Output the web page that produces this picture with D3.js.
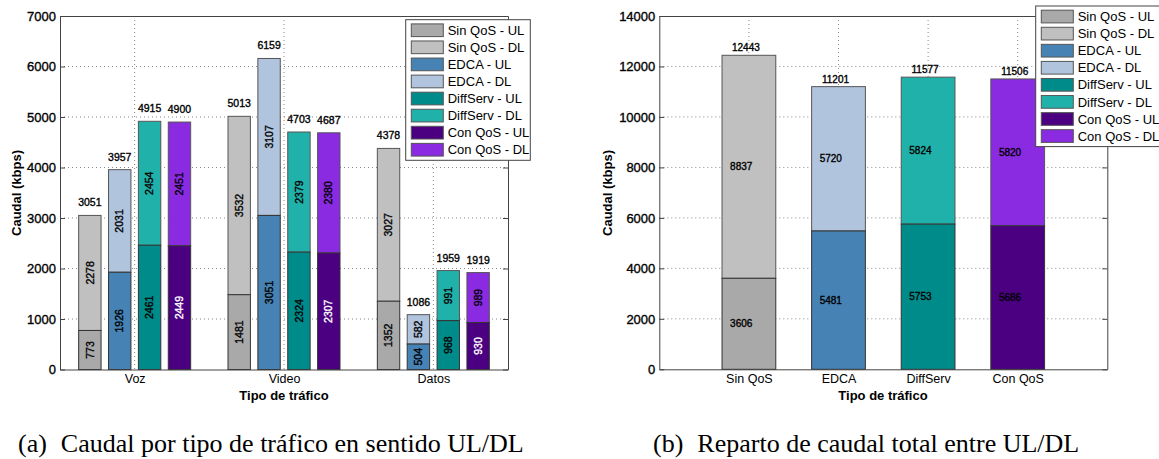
<!DOCTYPE html>
<html>
<head>
<meta charset="utf-8">
<script src="https://cdn.jsdelivr.net/npm/d3@7"></script>
<style>
  html, body { margin: 0; padding: 0; background: #fff; }
  svg { display: block; }
  text { font-family: "Liberation Sans", Arial, Helvetica, sans-serif; }
  .caption { font-family: "Liberation Serif", "Times New Roman", serif; }
  .num { stroke-width: 0.35px; }
</style>
</head>
<body>
<script>
// ---- data -------------------------------------------------------------
const trafficTypes = ["Voz", "Video", "Datos"];
const schemes = ["Sin QoS", "EDCA", "DiffServ", "Con QoS"];

// per-traffic-type throughput (kbps), uplink / downlink / total
const sinQosUL = [773, 1481, 1352];
const sinQosDL = [2278, 3532, 3027];
const sinQosTotal = [3051, 5013, 4378];
const edcaUL = [1926, 3051, 504];
const edcaDL = [2031, 3107, 582];
const edcaTotal = [3957, 6159, 1086];
const diffServUL = [2461, 2324, 968];
const diffServDL = [2454, 2379, 991];
const diffServTotal = [4915, 4703, 1959];
const conQosUL = [2449, 2307, 930];
const conQosDL = [2451, 2380, 989];
const conQosTotal = [4900, 4687, 1919];

// aggregate throughput per scheme (kbps)
const sumUL = [3606, 5481, 5753, 5686];
const sumDL = [8837, 5720, 5824, 5820];
const sumTotal = [12443, 11201, 11577, 11506];

const yTicksA = [0, 1000, 2000, 3000, 4000, 5000, 6000, 7000];
const yTicksB = [0, 2000, 4000, 6000, 8000, 10000, 12000, 14000];

const ulColors = ["#a9a9a9", "#4682b4", "#008b8b", "#4b0082"];
const dlColors = ["#c0c0c0", "#b0c4de", "#20b2aa", "#8a2be2"];
const ulTextColors = ["#000", "#000", "#000", "#fff"];

const legendLabels = schemes.flatMap(s => [s + " - UL", s + " - DL"]);
const legendColors = ulColors.flatMap((c, i) => [c, dlColors[i]]);

const seriesA = [
  { ul: sinQosUL, dl: sinQosDL, total: sinQosTotal },
  { ul: edcaUL, dl: edcaDL, total: edcaTotal },
  { ul: diffServUL, dl: diffServDL, total: diffServTotal },
  { ul: conQosUL, dl: conQosDL, total: conQosTotal }
];

// ---- canvas -----------------------------------------------------------
const W = 1159, H = 459;
const svg = d3.select("body").append("svg").attr("width", W).attr("height", H);

const EDGE = "#555";
const AXIS = "#444";
const GRID = "#888";

// numeric label, slightly heavier than plain text
function num(sel, color) {
  return sel.attr("class", "num").attr("fill", color).attr("stroke", color);
}

function frame(g, x, y, xTickVals, yTicks) {
  const [x0, x1] = x.range();
  const [y0, y1] = y.range();
  g.append("g").selectAll("line").data(yTicks.slice(1, -1)).join("line")
    .attr("x1", x0).attr("x2", x1).attr("y1", d => y(d)).attr("y2", d => y(d))
    .attr("stroke", GRID).attr("stroke-width", 1).attr("stroke-dasharray", "1,3");
  g.append("g").selectAll("line").data(xTickVals).join("line")
    .attr("x1", d => x(d)).attr("x2", d => x(d)).attr("y1", y1).attr("y2", y0)
    .attr("stroke", GRID).attr("stroke-width", 1).attr("stroke-dasharray", "1,3");
}

function axes(g, x, y, xTickVals, xTickLabels, yTicks) {
  const [x0, x1] = x.range();
  const [y0, y1] = y.range();
  const left = g.append("g").attr("transform", `translate(${x0},0)`)
    .call(d3.axisLeft(y).tickValues(yTicks).tickSizeInner(-5).tickSizeOuter(0).tickPadding(4).tickFormat(d3.format("d")));
  const right = g.append("g").attr("transform", `translate(${x1},0)`)
    .call(d3.axisRight(y).tickValues(yTicks).tickSizeInner(-5).tickSizeOuter(0).tickFormat(""));
  const bottom = g.append("g").attr("transform", `translate(0,${y0})`)
    .call(d3.axisBottom(x).tickValues(xTickVals).tickSize(0).tickPadding(5).tickFormat((d, i) => xTickLabels[i]));
  const top = g.append("g").attr("transform", `translate(0,${y1})`)
    .call(d3.axisTop(x).tickValues(xTickVals).tickSize(0).tickFormat(""));
  [left, right, bottom, top].forEach(a => {
    a.attr("font-family", null);
    a.select(".domain").attr("stroke", AXIS);
    a.selectAll(".tick line").attr("stroke", AXIS);
  });
  num(left.selectAll("text"), "#000").attr("font-size", 13);
  bottom.selectAll("text").attr("font-size", 12.5).attr("fill", "#000");
}

function legend(g, x, y) {
  const lg = g.append("g").attr("transform", `translate(${x},${y})`);
  lg.append("rect").attr("width", 124.6).attr("height", 140.6)
    .attr("fill", "#fff").attr("stroke", AXIS).attr("stroke-width", 1);
  const rows = lg.selectAll("g").data(legendLabels).join("g")
    .attr("transform", (d, i) => `translate(0,${10.5 + i * 17.07})`);
  rows.append("rect").attr("x", 5.6).attr("y", -6.3).attr("width", 32).attr("height", 12.7)
    .attr("fill", (d, i) => legendColors[i]).attr("stroke", EDGE).attr("stroke-width", 1);
  rows.append("text").attr("x", 42).attr("y", 0).attr("dy", "0.36em")
    .attr("font-size", 13).attr("fill", "#000").text(d => d);
}

function yTitle(g, cx, cy) {
  g.append("text").attr("transform", `translate(${cx},${cy}) rotate(-90)`)
    .attr("text-anchor", "middle").attr("dy", "0.35em")
    .attr("font-size", 13).attr("font-weight", "bold").text("Caudal (kbps)");
}
function xTitle(g, cx, cy) {
  g.append("text").attr("x", cx).attr("y", cy).attr("text-anchor", "middle").attr("dy", "0.35em")
    .attr("font-size", 13).attr("font-weight", "bold").text("Tipo de tráfico");
}

// ---- (a) throughput per traffic type -------------------------------------
{
  const g = svg.append("g");
  const x = d3.scaleLinear().domain([0.5, 3.5]).range([60, 508]);
  const y = d3.scaleLinear().domain([0, 7000]).range([369.5, 16]);
  const catPos = trafficTypes.map((d, i) => i + 1);
  frame(g, x, y, catPos, yTicksA);

  const offsets = [-0.3, -0.1, 0.1, 0.3];
  const barW = 0.15;
  seriesA.forEach((s, k) => {
    const sg = g.append("g");
    trafficTypes.forEach((t, i) => {
      const c = catPos[i] + offsets[k];
      const xl = x(c - barW / 2), bw = x(c + barW / 2) - xl;
      // downlink part stacked on top of uplink
      sg.append("rect").attr("x", xl).attr("width", bw)
        .attr("y", y(s.total[i])).attr("height", y(s.ul[i]) - y(s.total[i]))
        .attr("fill", dlColors[k]).attr("stroke", EDGE).attr("stroke-width", 1);
      sg.append("rect").attr("x", xl).attr("width", bw)
        .attr("y", y(s.ul[i])).attr("height", y(0) - y(s.ul[i]))
        .attr("fill", ulColors[k]).attr("stroke", "#333").attr("stroke-width", 1);
      // values inside the segments, rotated
      num(sg.append("text"), ulTextColors[k])
        .attr("transform", `translate(${x(c)},${y(s.ul[i] / 2)}) rotate(-90)`)
        .attr("text-anchor", "middle").attr("dy", "0.35em").attr("font-size", 10.5)
        .text(s.ul[i]);
      num(sg.append("text"), "#000")
        .attr("transform", `translate(${x(c)},${y((s.ul[i] + s.total[i]) / 2)}) rotate(-90)`)
        .attr("text-anchor", "middle").attr("dy", "0.35em").attr("font-size", 10.5)
        .text(s.dl[i]);
      // total above the bar
      num(sg.append("text"), "#000").attr("x", x(c)).attr("y", y(s.total[i]) - 9)
        .attr("text-anchor", "middle").attr("font-size", 10.5).text(s.total[i]);
    });
  });

  axes(g, x, y, catPos, trafficTypes, yTicksA);
  yTitle(g, 16, 193);
  xTitle(g, 284, 395);
  legend(g, 405.7, 19.7);
}

// ---- (b) total split between UL and DL ---------------------------------
{
  const g = svg.append("g");
  const x = d3.scaleLinear().domain([0, 5]).range([659.3, 1107.3]);
  const y = d3.scaleLinear().domain([0, 14000]).range([369.3, 16]);
  const catPos = schemes.map((d, i) => i + 1);
  frame(g, x, y, catPos, yTicksB);

  const barW = 0.6;
  schemes.forEach((s, i) => {
    const c = catPos[i];
    const xl = x(c - barW / 2), bw = x(c + barW / 2) - xl;
    g.append("rect").attr("x", xl).attr("width", bw)
      .attr("y", y(sumTotal[i])).attr("height", y(sumUL[i]) - y(sumTotal[i]))
      .attr("fill", dlColors[i]).attr("stroke", EDGE).attr("stroke-width", 1);
    g.append("rect").attr("x", xl).attr("width", bw)
      .attr("y", y(sumUL[i])).attr("height", y(0) - y(sumUL[i]))
      .attr("fill", ulColors[i]).attr("stroke", "#333").attr("stroke-width", 1);
    num(g.append("text"), "#000").attr("x", x(c - 0.21)).attr("y", y(sumUL[i] / 2)).attr("dy", "0.35em")
      .attr("font-size", 10).text(sumUL[i]);
    num(g.append("text"), "#000").attr("x", x(c - 0.21)).attr("y", y(sumUL[i] + sumDL[i] / 2)).attr("dy", "0.35em")
      .attr("font-size", 10).text(sumDL[i]);
    num(g.append("text"), "#000").attr("x", x(c) - 3).attr("y", y(sumTotal[i]) - 4)
      .attr("text-anchor", "middle").attr("font-size", 10).text(sumTotal[i]);
  });

  axes(g, x, y, catPos, schemes, yTicksB);
  yTitle(g, 607, 193);
  xTitle(g, 883, 395);
  legend(g, 1035.7, 6);
}

// ---- captions ---------------------------------------------------------
function caption(x0, tag, body) {
  const t = svg.append("text").attr("class", "caption").attr("x", x0).attr("y", 452)
    .attr("font-size", 26).attr("fill", "#000");
  t.append("tspan").text(tag);
  t.append("tspan").attr("dx", 14).text(body);
}
caption(18, "(a)", "Caudal por tipo de tráfico en sentido UL/DL");
caption(653, "(b)", "Reparto de caudal total entre UL/DL");
</script>
</body>
</html>
